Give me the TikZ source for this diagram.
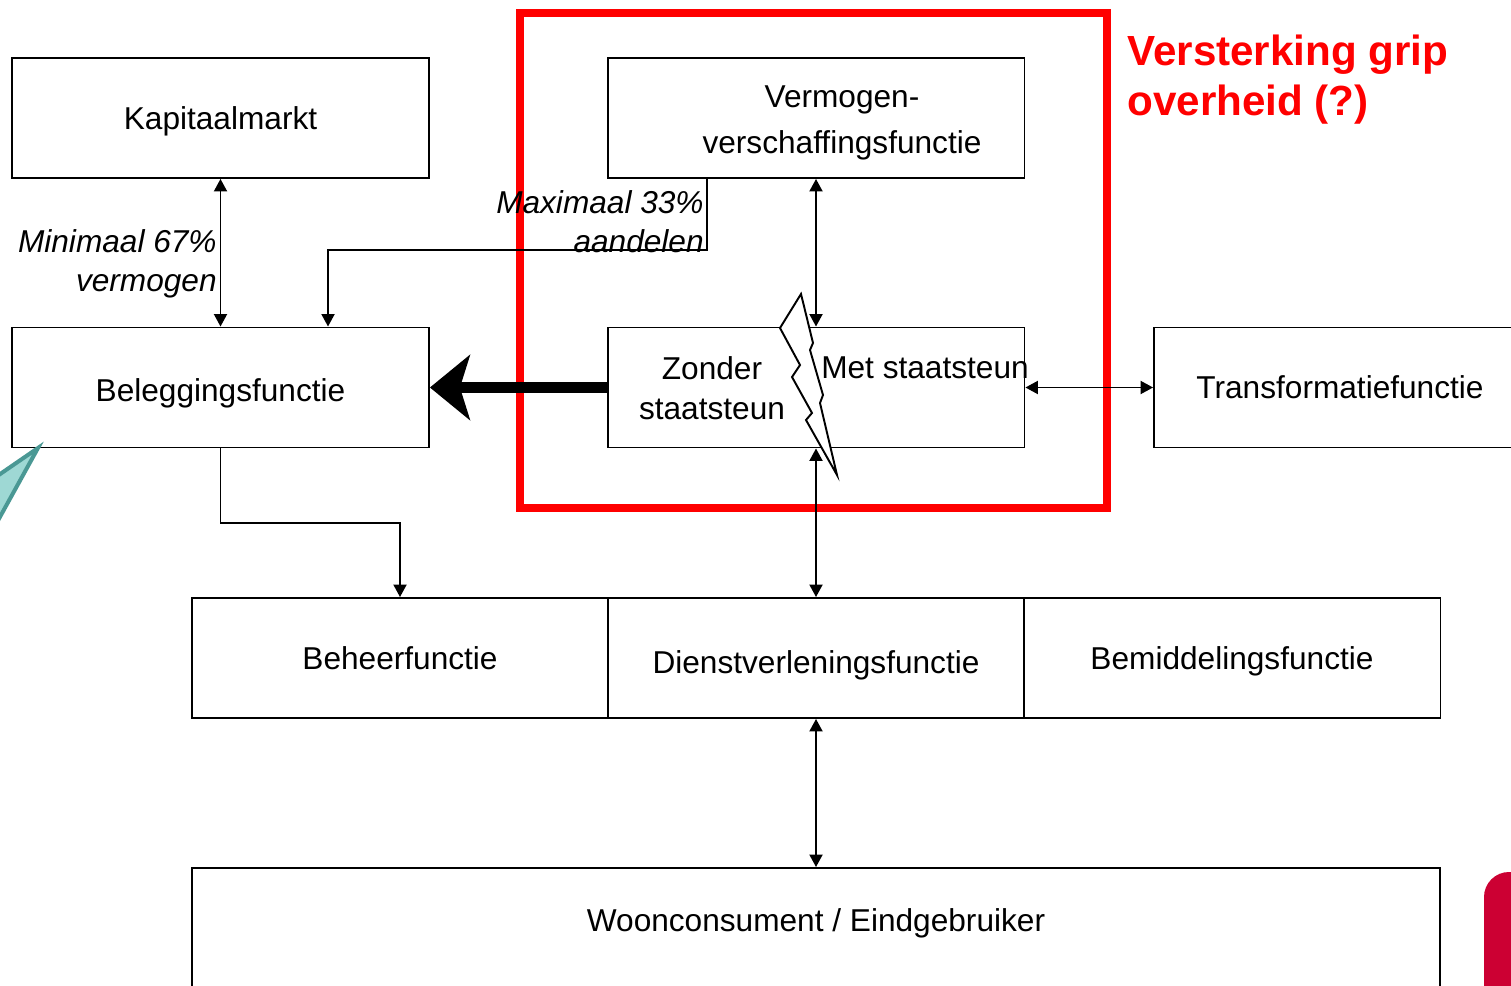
\documentclass[tikz,border=0pt]{standalone}
\usepackage{fontspec}
\setmainfont{Liberation Sans}
\usetikzlibrary{arrows.meta}

\definecolor{gripred}{RGB}{255,0,0}
\definecolor{tealfill}{RGB}{158,216,212}
\definecolor{tealline}{RGB}{74,152,148}
\definecolor{cornerred}{RGB}{204,0,51}

\begin{document}
\begin{tikzpicture}[x=0.02cm, y=-0.02cm,
    blok/.style={draw, line width=1.1pt, minimum width=8.34cm, minimum height=2.4cm,
        inner sep=0pt, align=center, text height=12.9pt, text depth=0pt,
        font=\fontsize{18pt}{23pt}\selectfont},
    tekst/.style={align=center, inner sep=0pt, font=\fontsize{18pt}{23pt}\selectfont},
    toelichting/.style={tekst, align=right, font=\fontsize{18pt}{22pt}\selectfont\itshape},
    pijl/.style={line width=1.1pt, -{Triangle[length=0.25cm, width=0.26cm]}},
    dubbel/.style={pijl, {Triangle[length=0.25cm, width=0.26cm]}-{Triangle[length=0.25cm, width=0.26cm]}}]
    \useasboundingbox (0,0) rectangle (1511,986);

    % Red frame
    \draw[gripred, line width=0.16cm] (520,13) rectangle (1107,508);
    \node[anchor=west, align=left, inner sep=0pt, text=gripred,
        font=\fontsize{24pt}{28.5pt}\selectfont\bfseries] (titel) at (1127,80)
        {Versterking grip\\overheid (?)};

    % Boxes
    \node[blok] (kapitaal) at (220.5,118) {Kapitaalmarkt};
    \node[blok] (verm) at (816,118) {};
    \node[tekst, anchor=north] (vermtekst) at (842,85.5)
        {Vermogen-\\[3.2pt]verschaffingsfunctie};
    \node[blok, text height=16pt] (beleg) at (220.5,387.5) {Beleggingsfunctie};
    \node[blok] (steun) at (816,387.5) {};
    \node[blok, minimum width=7.44cm] (trans) at (1340,387.5) {Transformatiefunctie};
    \node[blok] (beheer) at (400,658) {Beheerfunctie};
    \node[blok, text height=18.2pt] (dienst) at (816,658) {Dienstverleningsfunctie};
    \node[blok, text height=13.6pt] (bemid) at (1232,658) {Bemiddelingsfunctie};
    \node[blok, minimum width=24.96cm, minimum height=2.44cm, text depth=9.9pt] (woon)
        at (816,929) {Woonconsument / Eindgebruiker};

    % Split of the middle box
    \draw[line width=1.1pt, fill=white] (801,294) -- (813,343) -- (810,350) -- (823,395)
        -- (820,403) -- (837,475) -- (806,420) -- (812,413) -- (792,377) -- (800,365)
        -- (780,328) -- cycle;
    \node[tekst] (zonder) at (712,388) {Zonder\\staatsteun};
    \node[tekst] (met) at (925,368) {Met staatsteun};

    % Labels
    \node[toelichting, anchor=east] (minlabel) at (217,264) {Minimaal 67\%\\vermogen};
    \node[toelichting, anchor=east] (maxlabel) at (704,222) {Maximaal 33\%\\aandelen};

    % Connectors
    \draw[dubbel] (kapitaal) -- (beleg);
    \draw[pijl] ([xshift=2cm]verm.south west) -- ++(0,71) -| ([xshift=6.34cm]beleg.north west);
    \draw[dubbel] (verm) -- (steun);
    \draw[dubbel] (steun) -- (dienst);
    \draw[dubbel] (dienst) -- (woon);
    \draw[dubbel] (steun) -- (trans);
    \draw[pijl] (beleg.south) -- ++(0,75) -| (beheer.north);

    % Thick arrow
    \draw[line width=5.7pt, -{Stealth[length=0.8cm, width=1.3cm, inset=0.2cm]}] (steun) -- (beleg);

    % Edge shapes
    \draw[line width=0.08cm, draw=tealline, fill=tealfill] (38,448) -- (-10,481) -- (-10,535) -- cycle;
    \fill[cornerred, rounded corners=0.5cm] (1484,1000) -- (1484,872) -- (1540,872) -- (1540,1000);
\end{tikzpicture}
\end{document}
